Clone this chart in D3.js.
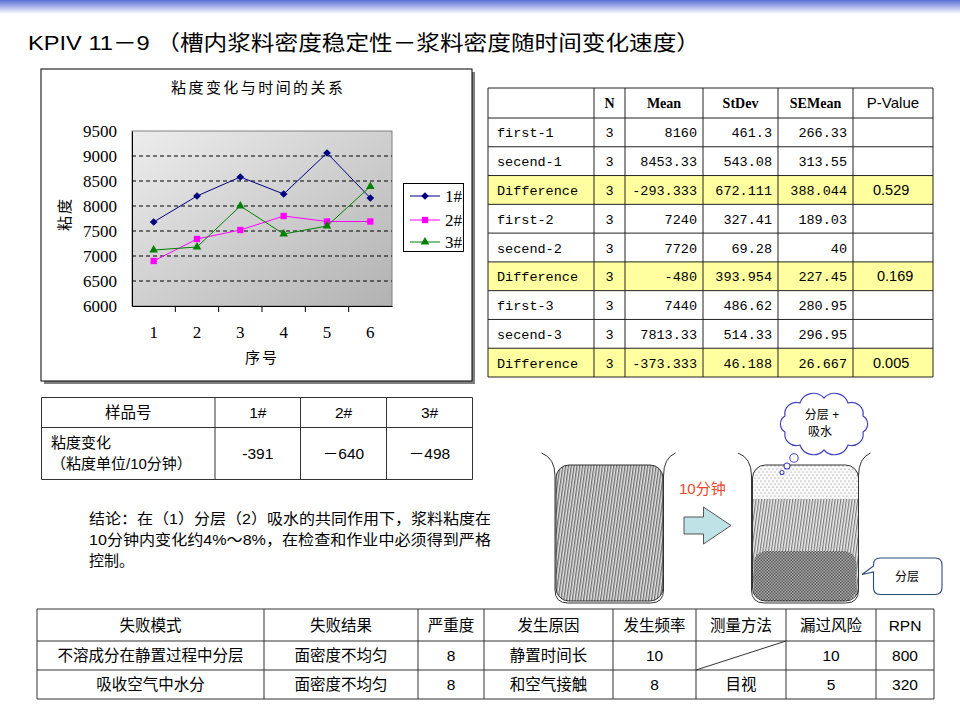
<!DOCTYPE html>
<html>
<head>
<meta charset="utf-8">
<script src="https://cdn.jsdelivr.net/npm/d3@7"></script>
<style>
body { margin: 0; background: #fff; }
svg { display: block; }
</style>
</head>
<body>
<div id="chart"></div>
<script>
// ---- data ----
var categories  = [1, 2, 3, 4, 5, 6];
var seriesNames = ["1#", "2#", "3#"];
var series1     = [7680, 8200, 8580, 8240, 9060, 8160];
var series2     = [6900, 7340, 7520, 7800, 7690, 7690];
var series3     = [7120, 7180, 8000, 7440, 7600, 8390];
var yTicks      = [6000, 6500, 7000, 7500, 8000, 8500, 9000, 9500];

var statsHeader = ["", "N", "Mean", "StDev", "SEMean", "P-Value"];
var statsNames  = ["first-1", "secend-1", "Difference", "first-2", "secend-2", "Difference", "first-3", "secend-3", "Difference"];
var statsN      = [3, 3, 3, 3, 3, 3, 3, 3, 3];
var statsMean   = ["8160", "8453.33", "-293.333", "7240", "7720", "-480", "7440", "7813.33", "-373.333"];
var statsStDev  = ["461.3", "543.08", "672.111", "327.41", "69.28", "393.954", "486.62", "514.33", "46.188"];
var statsSEMean = ["266.33", "313.55", "388.044", "189.03", "40", "227.45", "280.95", "296.95", "26.667"];
var statsP      = ["", "", "0.529", "", "", "0.169", "", "", "0.005"];

var sampleHeader = ["样品号", "1#", "2#", "3#"];
var sampleLabel  = ["粘度变化", "（粘度单位/10分钟）"];
var sampleChange = ["-391", "－640", "－498"];

var fmeaHeader = ["失败模式", "失败结果", "严重度", "发生原因", "发生频率", "测量方法", "漏过风险", "RPN"];
var fmeaRow1   = ["不溶成分在静置过程中分层", "面密度不均匀", "8", "静置时间长", "10", "", "10", "800"];
var fmeaRow2   = ["吸收空气中水分", "面密度不均匀", "8", "和空气接触", "8", "目视", "5", "320"];

var conclusion = ["结论：在（1）分层（2）吸水的共同作用下，浆料粘度在",
                  "10分钟内变化约4%～8%，在检查和作业中必须得到严格",
                  "控制。"];

var pageTitle  = "KPIV 11－9 （槽内浆料密度稳定性－浆料密度随时间变化速度）";
var chartTitle = "粘度变化与时间的关系";

var SANS = "'Liberation Sans', 'Noto Sans CJK SC', sans-serif";
var CJK  = "'Noto Sans CJK SC', sans-serif";
var SERIF = "'Liberation Serif', 'Noto Sans CJK SC', serif";
var MONO = "'Liberation Mono', monospace";

var svg = d3.select("#chart").append("svg")
    .attr("width", 960).attr("height", 720);
var defs = svg.append("defs");

// top banner gradient
var bg = defs.append("linearGradient").attr("id", "topbar")
    .attr("x1", 0).attr("y1", 0).attr("x2", 0).attr("y2", 1);
bg.append("stop").attr("offset", 0).attr("stop-color", "#5a6fd6");
bg.append("stop").attr("offset", 1).attr("stop-color", "#ffffff");
svg.append("rect").attr("x", 0).attr("y", 0).attr("width", 960).attr("height", 14)
    .attr("fill", "url(#topbar)");

svg.append("text").attr("x", 28).attr("y", 50)
    .attr("font-family", SANS).attr("font-size", 21)
    .attr("textLength", 672).attr("lengthAdjust", "spacingAndGlyphs")
    .text(pageTitle);

// ---- line chart ----
var pg = defs.append("linearGradient").attr("id", "plotbg")
    .attr("x1", 0).attr("y1", 0).attr("x2", 1).attr("y2", 1);
pg.append("stop").attr("offset", 0).attr("stop-color", "#ededed");
pg.append("stop").attr("offset", 1).attr("stop-color", "#b2b2b2");

svg.append("rect").attr("x", 44).attr("y", 72).attr("width", 431).attr("height", 312).attr("fill", "#808080");
svg.append("rect").attr("x", 41).attr("y", 69).attr("width", 431).attr("height", 312)
    .attr("fill", "#fff").attr("stroke", "#000").attr("stroke-width", 1);

var x = d3.scaleBand().domain(categories).range([132, 392]);
var y = d3.scaleLinear().domain([6000, 9500]).range([306, 131]);
var bw = x.bandwidth();

svg.append("rect").attr("x", 132).attr("y", y(9500)).attr("width", 260).attr("height", y(6000) - y(9500))
    .attr("fill", "url(#plotbg)").attr("stroke", "#808080");

svg.append("g").selectAll("line")
    .data(yTicks.filter(function(t){ return t > 6000 && t < 9500; }))
    .enter().append("line")
    .attr("x1", 132).attr("x2", 392)
    .attr("y1", function(d){ return y(d); }).attr("y2", function(d){ return y(d); })
    .attr("stroke", "#000").attr("stroke-dasharray", "4,3");

var yAxis = svg.append("g").attr("transform", "translate(132,0)")
    .call(d3.axisLeft(y).tickValues(yTicks).tickFormat(d3.format("d")).tickSize(0).tickPadding(15));
yAxis.select(".domain").attr("stroke", "#000");
yAxis.selectAll("text").attr("font-family", SERIF).attr("font-size", 17).attr("fill", "#000");

var xAxis = svg.append("g").attr("transform", "translate(0,306)")
    .call(d3.axisBottom(x).tickSize(0).tickPadding(20));
xAxis.select(".domain").attr("stroke", "#000");
xAxis.selectAll("text").attr("font-family", SERIF).attr("font-size", 17).attr("fill", "#000");
xAxis.selectAll(".sep").data(categories.slice(1)).enter().append("line")
    .attr("class", "sep")
    .attr("x1", function(d){ return x(d); }).attr("x2", function(d){ return x(d); })
    .attr("y1", 0).attr("y2", 6).attr("stroke", "#000");

svg.append("text").attr("x", 257).attr("y", 93).attr("text-anchor", "middle")
    .attr("font-family", CJK).attr("font-size", 15).attr("textLength", 172)
    .attr("lengthAdjust", "spacing").text(chartTitle);
svg.append("text").attr("x", 261).attr("y", 363).attr("text-anchor", "middle")
    .attr("font-family", CJK).attr("font-size", 15).attr("textLength", 32)
    .attr("lengthAdjust", "spacing").text("序号");
svg.append("text").attr("transform", "translate(70,215) rotate(-90)").attr("text-anchor", "middle")
    .attr("font-family", CJK).attr("font-size", 15).attr("textLength", 32)
    .attr("lengthAdjust", "spacing").text("粘度");

var seriesList = [
    {name: seriesNames[0], values: series1, color: "#000080", symbol: d3.symbolSquare, size: 30, rotate: 45},
    {name: seriesNames[1], values: series2, color: "#ff00ff", symbol: d3.symbolSquare, size: 40, rotate: 0},
    {name: seriesNames[2], values: series3, color: "#008000", symbol: d3.symbolTriangle, size: 32, rotate: 0}
];
var line = d3.line()
    .x(function(d, i){ return x(categories[i]) + bw / 2; })
    .y(function(d){ return y(d); });

seriesList.forEach(function(s){
    svg.append("path").attr("d", line(s.values)).attr("fill", "none")
        .attr("stroke", s.color).attr("stroke-width", 1);
    svg.append("g").selectAll("path").data(s.values).enter().append("path")
        .attr("d", d3.symbol().type(s.symbol).size(s.size))
        .attr("transform", function(d, i){
            return "translate(" + (x(categories[i]) + bw / 2) + "," + y(d) + ") rotate(" + s.rotate + ")";
        })
        .attr("fill", s.color);
});

// legend
svg.append("rect").attr("x", 403.5).attr("y", 183.5).attr("width", 60).attr("height", 68)
    .attr("fill", "#fff").attr("stroke", "#000");
var lg = svg.append("g").selectAll("g").data(seriesList).enter().append("g")
    .attr("transform", function(d, i){ return "translate(0," + [196, 220, 242][i] + ")"; });
lg.append("line").attr("x1", 410).attr("x2", 440).attr("stroke", function(d){ return d.color; });
lg.append("path").attr("d", function(d){ return d3.symbol().type(d.symbol).size(d.size)(); })
    .attr("transform", function(d){ return "translate(425,0) rotate(" + d.rotate + ")"; })
    .attr("fill", function(d){ return d.color; });
lg.append("text").attr("x", 445).attr("y", 6).attr("font-family", SERIF).attr("font-size", 17)
    .text(function(d){ return d.name; });

// ---- helpers ----
function grid(xs, ys, color) {
    var g = svg.append("g").attr("stroke", color || "#333").attr("stroke-width", 1).attr("fill", "none");
    xs.forEach(function(v){
        g.append("line").attr("x1", v).attr("x2", v).attr("y1", ys[0]).attr("y2", ys[ys.length - 1]);
    });
    ys.forEach(function(v){
        g.append("line").attr("x1", xs[0]).attr("x2", xs[xs.length - 1]).attr("y1", v).attr("y2", v);
    });
    return g;
}

// ---- stats table ----
var sx = [488, 594, 625, 703, 778, 853, 933];
var rowY = d3.scaleBand().domain(d3.range(statsNames.length)).range([118, 377]);
var rh = rowY.bandwidth();

svg.append("g").selectAll("rect").data(d3.range(statsNames.length).filter(function(i){ return statsNames[i] === "Difference"; }))
    .enter().append("rect")
    .attr("x", sx[0]).attr("width", sx[6] - sx[0])
    .attr("y", function(i){ return rowY(i); }).attr("height", rh)
    .attr("fill", "#ffffa0");

grid(sx, [88].concat(d3.range(statsNames.length).map(function(i){ return rowY(i); })).concat([377]), "#222");

statsHeader.forEach(function(h, j){
    if (!h) return;
    svg.append("text").attr("x", (sx[j] + sx[j + 1]) / 2).attr("y", 108).attr("text-anchor", "middle")
        .attr("font-family", j === 5 ? SANS : SERIF).attr("font-weight", j === 5 ? "normal" : "bold")
        .attr("font-size", j === 5 ? 15 : 14).text(h);
});
var srows = svg.append("g").selectAll("g").data(statsNames).enter().append("g")
    .attr("transform", function(d, i){ return "translate(0," + (rowY(i) + rh / 2 + 5) + ")"; });
srows.append("text").attr("x", 497).attr("font-family", MONO).attr("font-size", 13.5)
    .text(function(d){ return d; });
srows.append("text").attr("x", (sx[1] + sx[2]) / 2).attr("text-anchor", "middle")
    .attr("font-family", MONO).attr("font-size", 13.5).text(function(d, i){ return statsN[i]; });
[statsMean, statsStDev, statsSEMean].forEach(function(col, k){
    srows.append("text").attr("x", sx[k + 3] - 6).attr("text-anchor", "end")
        .attr("font-family", MONO).attr("font-size", 13.5).text(function(d, i){ return col[i]; });
});
srows.append("text").attr("x", function(d, i){ return i === 5 ? 877 : 873; })
    .attr("font-family", SANS).attr("font-size", 14.5).text(function(d, i){ return statsP[i]; });

// ---- sample table ----
var tx = [41.5, 215, 300.5, 386.5, 472.5];
var ty = [397.5, 427.5, 479.5];
grid(tx, ty, "#333");
sampleHeader.forEach(function(h, j){
    svg.append("text").attr("x", (tx[j] + tx[j + 1]) / 2).attr("y", 418).attr("text-anchor", "middle")
        .attr("font-family", SANS).attr("font-size", 15.5).text(h);
});
svg.append("text").attr("x", 51).attr("y", 448).attr("font-family", SANS).attr("font-size", 15).text(sampleLabel[0]);
svg.append("text").attr("x", 51).attr("y", 469).attr("font-family", SANS).attr("font-size", 15).text(sampleLabel[1]);
sampleChange.forEach(function(v, j){
    svg.append("text").attr("x", (tx[j + 1] + tx[j + 2]) / 2).attr("y", 459).attr("text-anchor", "middle")
        .attr("font-family", SANS).attr("font-size", 15.5).text(v);
});

// conclusion
svg.append("g").selectAll("text").data(conclusion).enter().append("text")
    .attr("x", 89).attr("y", function(d, i){ return 524 + i * 21; })
    .attr("font-family", SANS).attr("font-size", 15)
    .attr("textLength", function(d, i){ return i < 2 ? 402 : null; })
    .attr("lengthAdjust", "spacingAndGlyphs")
    .text(function(d){ return d; });

// ---- beakers ----
function pattern(id, w, h, bgc, build, rot) {
    var p = defs.append("pattern").attr("id", id).attr("patternUnits", "userSpaceOnUse")
        .attr("width", w).attr("height", h);
    if (rot) p.attr("patternTransform", "rotate(" + rot + ")");
    p.append("rect").attr("width", w).attr("height", h).attr("fill", bgc);
    build(p);
}
pattern("hatchDark", 2.8, 10, "#e4e4e4", function(p){
    p.append("rect").attr("width", 1.3).attr("height", 10).attr("fill", "#6e6e6e");
}, 8);
pattern("hatchLight", 2.8, 10, "#ececec", function(p){
    p.append("rect").attr("width", 1.2).attr("height", 10).attr("fill", "#7a7a7a");
}, 8);
pattern("dots", 4, 6, "#fafafa", function(p){
    p.append("circle").attr("cx", 1).attr("cy", 1).attr("r", 0.6).attr("fill", "#777");
    p.append("circle").attr("cx", 3).attr("cy", 4).attr("r", 0.6).attr("fill", "#777");
});
pattern("checker", 3, 3, "#b0b0b0", function(p){
    p.append("rect").attr("width", 1.5).attr("height", 1.5).attr("fill", "#555");
    p.append("rect").attr("x", 1.5).attr("y", 1.5).attr("width", 1.5).attr("height", 1.5).attr("fill", "#555");
});

function beakerOutline(l, r) {
    return "M" + (l - 13.5) + ",453 Q" + l + ",458 " + l + ",476 L" + l + ",590 Q" + l + ",603 " + (l + 13) + ",603 L" +
        (r - 13) + ",603 Q" + r + ",603 " + r + ",590 L" + r + ",476 Q" + r + ",458 " + (r + 12) + ",453";
}

// left beaker
svg.append("rect").attr("x", 556).attr("y", 465).attr("width", 107).attr("height", 136).attr("rx", 13)
    .attr("fill", "url(#hatchDark)").attr("stroke", "#333");
svg.append("path").attr("d", beakerOutline(555, 663.5)).attr("fill", "none").attr("stroke", "#333");

// right beaker
defs.append("clipPath").attr("id", "rb").append("rect")
    .attr("x", 752.5).attr("y", 465).attr("width", 106).attr("height", 136).attr("rx", 13);
var rbg = svg.append("g").attr("clip-path", "url(#rb)");
rbg.append("rect").attr("x", 752).attr("y", 465).attr("width", 107).attr("height", 34).attr("fill", "url(#dots)");
rbg.append("rect").attr("x", 752).attr("y", 499).attr("width", 107).attr("height", 102).attr("fill", "url(#hatchLight)");
rbg.append("rect").attr("x", 753.5).attr("y", 551).attr("width", 103).attr("height", 50).attr("rx", 13)
    .attr("fill", "url(#checker)");
svg.append("rect").attr("x", 752.5).attr("y", 465).attr("width", 106).attr("height", 136).attr("rx", 13)
    .attr("fill", "none").attr("stroke", "#333");
svg.append("path").attr("d", beakerOutline(751.5, 858.5)).attr("fill", "none").attr("stroke", "#333");

// arrow
svg.append("path")
    .attr("d", "M684,517 L703.5,517 L703.5,507 L731,525.5 L703.5,544 L703.5,534 L684,534 Z")
    .attr("fill", "#bfe2e6").attr("stroke", "#555");
svg.append("text").attr("x", 679).attr("y", 494).attr("font-family", SANS).attr("font-size", 15)
    .attr("fill", "#e8462a").text("10分钟");

// cloud
var cx0 = 824, cy0 = 424, crx = 41, cry = 26, nb = 10;
var cpts = d3.range(nb).map(function(i){
    var a = -Math.PI / 2 + i * 2 * Math.PI / nb;
    return [cx0 + crx * Math.cos(a), cy0 + cry * Math.sin(a)];
});
var cd = "M" + cpts[0][0] + "," + cpts[0][1];
cpts.forEach(function(p, i){
    var q = cpts[(i + 1) % nb];
    var ch = Math.hypot(q[0] - p[0], q[1] - p[1]);
    var rr = ch * 0.58;
    cd += " A" + rr + "," + rr + " 0 0 1 " + q[0] + "," + q[1];
});
svg.append("path").attr("d", cd + "Z").attr("fill", "#fff").attr("stroke", "#4545c0").attr("stroke-width", 1.2);
[[794, 458, 4.2], [787, 466, 3], [782, 472.5, 2]].forEach(function(c){
    svg.append("circle").attr("cx", c[0]).attr("cy", c[1]).attr("r", c[2])
        .attr("fill", "#fff").attr("stroke", "#4545c0").attr("stroke-width", 1.1);
});
svg.append("text").attr("x", 822).attr("y", 419).attr("text-anchor", "middle")
    .attr("font-family", SANS).attr("font-size", 12).text("分层 +");
svg.append("text").attr("x", 820).attr("y", 436).attr("text-anchor", "middle")
    .attr("font-family", SANS).attr("font-size", 12).text("吸水");

// callout
svg.append("path")
    .attr("d", "M880,558 L935,558 Q942,558 942,565 L942,587.5 Q942,594.5 935,594.5 L880,594.5 Q873.5,594.5 873.5,587.5 " +
        "L873.5,572 L862,574.5 L873.5,566 L873.5,565 Q873.5,558 880,558 Z")
    .attr("fill", "#fff").attr("stroke", "#2c4a80").attr("stroke-width", 1.1);
svg.append("text").attr("x", 907).attr("y", 581).attr("text-anchor", "middle")
    .attr("font-family", SANS).attr("font-size", 12).text("分层");

// ---- FMEA table ----
var fx = [37, 264, 418, 484, 613, 696, 786, 876, 934];
var fy = [609, 641, 670, 699];
grid(fx, fy, "#333");
svg.append("line").attr("x1", fx[5]).attr("y1", fy[2]).attr("x2", fx[6]).attr("y2", fy[1]).attr("stroke", "#333");
[fmeaHeader, fmeaRow1, fmeaRow2].forEach(function(row, r){
    row.forEach(function(v, j){
        if (!v) return;
        svg.append("text").attr("x", (fx[j] + fx[j + 1]) / 2).attr("y", (fy[r] + fy[r + 1]) / 2 + 5.5)
            .attr("text-anchor", "middle").attr("font-family", SANS).attr("font-size", 15.5).text(v);
    });
});
</script>
</body>
</html>
